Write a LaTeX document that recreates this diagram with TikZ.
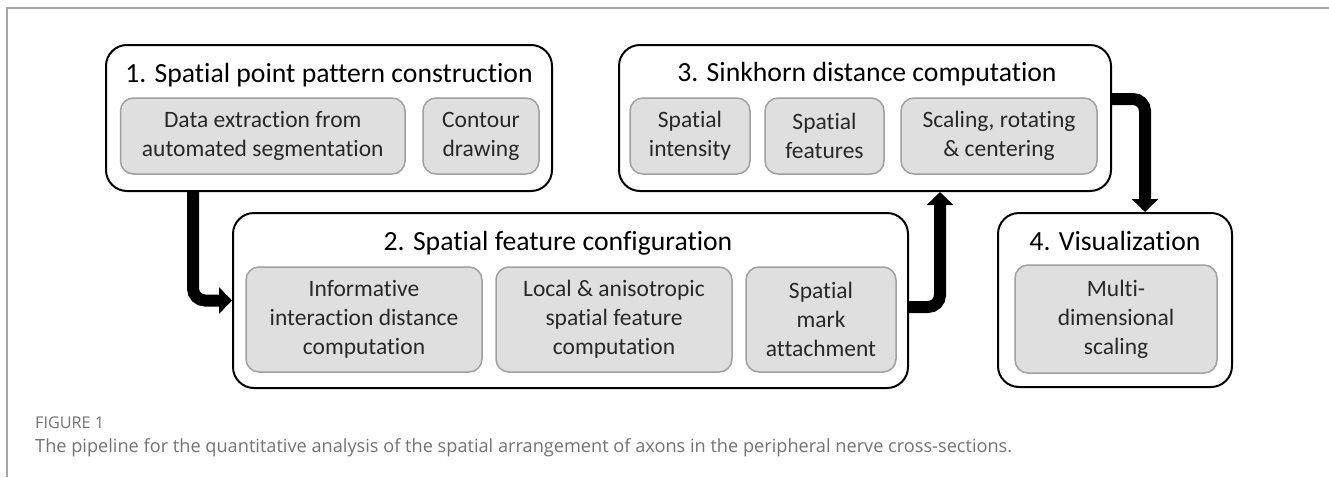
\documentclass[tikz,border=0pt]{standalone}
\usepackage{fontspec}
\setmainfont{Carlito}[Ligatures=NoCommon]
\newfontfamily\capfont{Open Sans}
\usetikzlibrary{arrows.meta}
\definecolor{subfill}{RGB}{223,223,223}
\definecolor{subline}{RGB}{160,160,160}
\definecolor{subtext}{RGB}{40,40,40}
\definecolor{framegray}{RGB}{165,165,165}
\definecolor{capgray}{RGB}{115,115,115}
\newcommand{\captiontxt}{The pipeline for the quantitative analysis of the spatial arrangement of axons in the peripheral nerve cross-sections.}
\newcommand{\figlabeltxt}{FIGURE 1}
\newlength\mycapw
\newlength\mylabw
\tikzset{
  outerbox/.style={draw=black, line width=2pt, rounded corners=21pt, fill=white, inner sep=0pt},
  subbox/.style={draw=subline, line width=1.5pt, fill=subfill, rounded corners=13pt, inner sep=0pt,
    align=center, text=subtext, font=\fontsize{23.5pt}{29pt}\selectfont},
  titletext/.style={anchor=base, inner sep=0pt, font=\fontsize{27.7pt}{33pt}\selectfont},
  flow/.style={line width=12pt, rounded corners=12pt, -{Triangle[width=26pt,length=13pt]}},
  framerule/.style={draw=framegray, line width=2pt},
  capstyle/.style={anchor=base west, inner sep=0pt, text=capgray}
}
\begin{document}
\settowidth\mycapw{\capfont\fontsize{10pt}{12pt}\selectfont\captiontxt}
\settowidth\mylabw{\capfont\fontsize{10pt}{12pt}\selectfont\figlabeltxt}
\pgfmathsetmacro\capsize{10*977/\mycapw}
\pgfmathsetmacro\labsize{10*69/\mylabw}
\begin{tikzpicture}[x=1pt,y=-1pt]
\useasboundingbox (0,0) rectangle (1329,477);
% frame
\coordinate (fa) at (7,477);
\coordinate (fb) at (7,7.5);
\coordinate (fc) at (1329,7.5);
\draw[framerule] (fa) -- (fb) -- (fc);
% outer boxes
\node[outerbox, minimum width=446pt, minimum height=146pt] (b1) at (329,118) {};
\node[outerbox, minimum width=492pt, minimum height=146pt] (b3) at (865,118) {};
\node[outerbox, minimum width=675pt, minimum height=175pt] (b2) at (570.5,300.5) {};
\node[outerbox, minimum width=234pt, minimum height=174pt] (b4) at (1115,300) {};
% titles
\node[titletext] (t1) at (329,82) {1. Spatial point pattern construction};
\node[titletext] (t3) at (867,81) {3. Sinkhorn distance computation};
\node[titletext] (t2) at (558,250) {2. Spatial feature configuration};
\node[titletext] (t4) at (1115,250) {4. Visualization};
% sub boxes
\node[subbox, minimum width=284.5pt, minimum height=76pt] (s11) at (262.75,136) {Data extraction from\\automated segmentation};
\node[subbox, minimum width=116pt, minimum height=76pt] (s12) at (481,136) {Contour\\drawing};
\node[subbox, minimum width=120pt, minimum height=76pt] (s31) at (690,136) {Spatial\\intensity};
\node[subbox, minimum width=119pt, minimum height=76pt] (s32) at (824.5,136) {Spatial\\features};
\node[subbox, minimum width=196pt, minimum height=76pt] (s33) at (999,136) {Scaling, rotating\\\& centering};
\node[subbox, minimum width=236pt, minimum height=105pt] (s21) at (364,319.5) {Informative\\interaction distance\\computation};
\node[subbox, minimum width=236pt, minimum height=105pt] (s22) at (614,319.5) {Local \& anisotropic\\spatial feature\\computation};
\node[subbox, minimum width=150pt, minimum height=105pt] (s23) at (821,319.5) {Spatial\\mark\\attachment};
\node[subbox, minimum width=202pt, minimum height=108pt] (s41) at (1116,319) {Multi-\\dimensional\\scaling};
% connectors
\draw[flow] ([xshift=88pt]b1.south west) |- (b2.west);
\draw[flow] ([yshift=-6.5pt]b2.east) -| ([xshift=322pt]b3.south west);
\draw[flow] ([yshift=19pt]b3.east) -| ([xshift=30pt]b4.north);
% caption
\node[capstyle, font=\capfont\fontsize{\labsize pt}{19pt}\selectfont] (cap1) at (35,428) {\figlabeltxt};
\node[capstyle, font=\capfont\fontsize{\capsize pt}{21pt}\selectfont] (cap2) at (35,452) {\captiontxt};
\end{tikzpicture}
\end{document}
